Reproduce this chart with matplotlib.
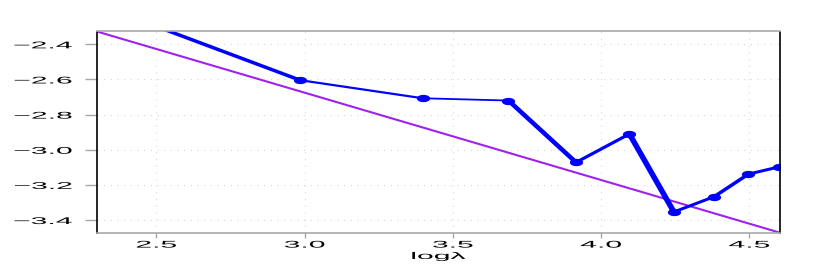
import matplotlib
matplotlib.use("Agg")
import matplotlib.pyplot as plt
import numpy as np
from matplotlib.collections import LineCollection
from matplotlib.patheffects import AbstractPathEffect
from matplotlib.transforms import Affine2D
from matplotlib.path import Path

# ---- data ----
blue_x = [2.40, 2.985, 3.399, 3.688, 3.916, 4.096, 4.246, 4.382, 4.497, 4.602]
blue_y = [-2.235, -2.604, -2.707, -2.72, -3.072, -2.910, -3.354, -3.267, -3.139, -3.097]
fit_intercept = -1.184
fit_slope = -0.497
x_ticks = [2.5, 3.0, 3.5, 4.0, 4.5]
y_ticks = [-3.4, -3.2, -3.0, -2.8, -2.6, -2.4]
x_label = "log\u03bb"

# ---- styles ----
segment_lw_px = [3.5, 2.2, 1.8, 4.5, 3.2, 5.5, 3.0, 3.5, 3.0]
BLUE = "#0000FF"
PURPLE = "#A020F0"
GRAY = "#a8a8a8"

plt.rcParams['font.family'] = ['Liberation Sans', 'DejaVu Sans']


class HStretch(AbstractPathEffect):
    """Draw text horizontally stretched (reference text is very wide)."""
    def __init__(self, sx=3.1, anchor='center'):
        super().__init__()
        self.sx = sx
        self.anchor = anchor

    def draw_path(self, renderer, gc, tpath, affine, rgbFace=None):
        ext = tpath.get_extents(affine)
        if self.anchor == 'right':
            cx = ext.x1
        elif self.anchor == 'left':
            cx = ext.x0
        else:
            cx = 0.5 * (ext.x0 + ext.x1)
        t = affine + Affine2D().translate(-cx, 0).scale(self.sx, 1.0).translate(cx, 0)
        renderer.draw_path(gc, tpath, t, rgbFace)


fig = plt.figure(figsize=(8.3, 2.73), dpi=100)
ax = fig.add_axes([97 / 830, 1 - 232.5 / 273, (780 - 97) / 830, (232.5 - 31.5) / 273])

xlim = (2.30, 4.604)
ylim = (-3.471, -2.327)
ax.set_xlim(*xlim)
ax.set_ylim(*ylim)

# grid
ax.set_xticks(x_ticks)
ax.set_yticks(y_ticks)
ax.grid(True, color="#d9d9d9", linestyle=(0, (1, 5)), linewidth=0.8)
ax.set_axisbelow(True)

# purple fitted line
fx = np.array(xlim)
ax.plot(fx, fit_intercept + fit_slope * fx, color=PURPLE, lw=1.5, solid_capstyle='butt')

# blue segments with varying width
pts = np.column_stack([blue_x, blue_y])
segs = np.stack([pts[:-1], pts[1:]], axis=1)
lc = LineCollection(segs, colors=BLUE, linewidths=[w * 0.72 for w in segment_lw_px],
                    capstyle='round', joinstyle='round')
ax.add_collection(lc)

# elliptical markers
circ = Path.unit_circle()
ell = Path(circ.vertices * np.array([1.0, 0.5]), circ.codes)
ax.plot(blue_x, blue_y, linestyle='none', marker=ell, markersize=8.5, color=BLUE)

# spines
for s in ('left', 'right'):
    ax.spines[s].set_color('black')
    ax.spines[s].set_linewidth(1.2)
for s in ('top', 'bottom'):
    ax.spines[s].set_color(GRAY)
    ax.spines[s].set_linewidth(1.2)

ax.tick_params(axis='y', direction='out', length=8.6, width=1.0, color=GRAY,
               labelsize=7, pad=9.5)
ax.tick_params(axis='x', direction='out', length=3.6, width=1.0, color=GRAY,
               labelsize=7, pad=1.5)
ax.set_yticklabels([f"{v:.1f}".replace('-', '\u2212') for v in y_ticks])
ax.set_xticklabels([f"{v:.1f}" for v in x_ticks])

for lab in ax.get_yticklabels():
    lab.set_path_effects([HStretch(3.1, 'right')])
for lab in ax.get_xticklabels():
    lab.set_path_effects([HStretch(3.1, 'center')])

xl = ax.set_xlabel(x_label, fontsize=7, labelpad=1)
xl.set_path_effects([HStretch(3.1, 'center')])

fig.savefig("out.png", dpi=100)
